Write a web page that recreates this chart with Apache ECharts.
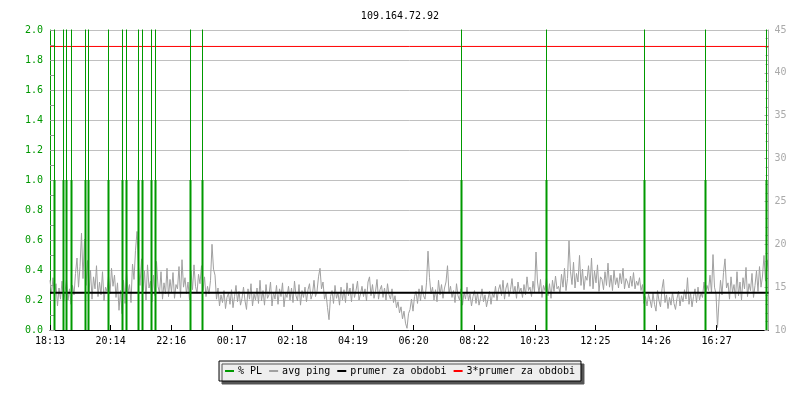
<!DOCTYPE html>
<html>
<head>
<meta charset="utf-8">
<script src="https://cdn.jsdelivr.net/npm/echarts@6/dist/echarts.min.js"></script>
<style>html,body{margin:0;padding:0;background:#fff}#c{width:800px;height:400px}</style>
</head>
<body>
<div id="c"></div>
<script>
// ---- data ----
const titleText = '109.164.72.92';
const xTickLabels = ['18:13','20:14','22:16','00:17','02:18','04:19','06:20','08:22','10:23','12:25','14:26','16:27'];
const xTickStepMin = 121.2;          // minutes between labelled ticks
const pingStepMin = 3;               // minutes between ping samples
const xMaxMin = 1437;                // minutes shown
// avg ping [ms], one value every 3 minutes from 18:13 (one row = 1 hour)
const pingValues = [
 15.8,14.2,16.1,13.9,15.4,12.8,14.9,13.6,15.7,13.2,14.4,15.9,13.5,14.8,13.0,15.2,14.1,16.6,18.4,15.0,
 17.4,21.3,16.0,20.6,15.2,18.1,14.3,17.0,13.6,16.2,14.8,17.5,13.9,15.6,14.1,16.8,13.4,15.0,14.5,16.3,
 14.2,17.2,15.1,16.4,13.8,15.5,12.3,14.6,11.9,15.8,13.1,16.9,14.4,15.3,13.2,17.7,15.9,19.3,21.5,17.4,
 15.2,18.3,14.6,16.9,13.5,17.6,14.9,15.7,13.3,16.4,14.0,18.0,15.1,14.3,16.8,13.6,15.5,14.2,17.2,13.9,
 15.9,14.4,16.7,13.7,15.3,14.8,17.4,13.8,18.2,15.0,16.1,14.2,15.6,13.5,16.9,14.7,17.6,15.1,14.3,16.5,
 15.4,17.5,14.6,16.2,13.9,15.1,14.2,15.8,20.0,17.1,16.4,13.6,14.9,12.8,14.1,13.2,14.6,12.5,13.8,14.3,
 13.0,14.7,12.6,13.9,15.2,13.3,14.5,12.9,13.7,15.0,13.4,12.4,14.8,13.6,15.4,12.8,14.2,13.5,14.9,13.1,
 15.8,13.4,14.6,12.9,15.3,13.7,14.1,15.6,12.8,14.4,13.6,15.2,13.0,14.8,13.9,15.5,12.7,14.3,13.8,15.1,
 13.5,14.9,13.2,15.7,14.0,13.4,15.3,12.9,14.6,13.8,15.0,13.3,14.7,15.4,13.6,14.2,15.8,13.9,14.5,16.2,
 17.2,14.8,15.6,13.6,14.3,12.6,11.2,13.9,14.6,13.1,15.2,13.7,14.4,12.9,15.0,13.5,14.7,13.2,15.5,14.0,
 14.9,13.3,15.4,13.8,14.6,15.7,13.5,14.2,15.1,13.9,14.8,13.4,15.6,16.2,14.0,15.3,13.7,14.5,15.9,13.6,
 14.7,15.2,13.8,14.9,13.5,15.4,14.1,13.6,14.8,13.2,14.0,12.6,13.3,12.0,12.7,11.3,12.2,10.8,10.2,11.9,
 12.4,13.6,12.2,13.9,14.5,13.1,14.8,13.4,15.2,14.0,13.6,15.5,19.2,16.1,14.2,15.0,13.5,14.7,13.3,15.8,
 14.1,15.3,13.7,14.9,15.6,17.5,14.3,15.1,13.8,14.6,13.2,15.4,14.0,13.5,14.8,12.9,14.4,13.6,15.0,13.4,
 14.2,12.8,13.9,14.6,13.1,14.4,12.9,13.7,14.8,13.3,14.1,12.7,13.6,14.5,13.0,14.3,13.8,15.1,13.4,14.7,
 15.3,14.0,15.8,13.6,14.9,15.5,13.9,14.7,16.0,14.2,15.1,13.7,15.6,14.4,14.9,13.8,15.3,14.1,16.2,14.6,
 15.0,13.9,15.7,14.4,19.1,15.6,14.3,15.9,13.8,15.2,14.6,16.1,14.0,15.4,13.7,15.8,14.5,16.3,14.8,15.1,
 14.3,16.5,15.0,17.2,14.6,16.0,20.4,16.8,15.3,17.9,14.9,16.6,15.6,18.7,15.2,17.1,14.7,16.3,15.8,17.5,
 15.1,18.4,14.8,16.9,15.5,17.6,14.5,16.2,15.9,14.7,16.8,15.2,17.8,15.0,16.4,14.6,17.0,15.3,16.1,14.9,
 16.6,15.4,17.2,14.8,16.0,15.6,14.9,16.3,15.1,16.7,14.8,15.7,15.2,16.1,14.6,15.3,13.1,13.9,12.8,14.2,
 13.5,12.6,14.3,13.0,12.2,14.6,13.4,12.7,14.8,15.9,13.2,14.1,12.5,13.8,12.9,14.4,13.1,12.4,13.7,14.5,
 12.8,14.0,13.3,14.7,13.6,16.1,13.0,14.4,12.7,13.9,14.8,13.2,15.0,13.5,14.3,13.8,15.6,14.1,15.2,14.6,
 16.4,14.3,18.8,15.0,14.2,10.3,13.4,15.8,14.1,16.7,18.3,14.9,15.5,13.6,16.2,14.4,15.3,13.7,16.8,14.0,
 15.6,13.5,16.1,14.8,17.3,13.9,15.4,14.6,16.6,13.8,15.2,16.9,14.5,17.4,15.0,16.3,18.7,15.7,18.2,16.8
];
// packet loss events: minutes from 18:13 and loss value [%]
const plTimes  = [9,27,33,43,71,77,117,145,153,177,185,203,211,281,305,823,993,1189,1311,1433];
const plValues = [5,5,5,5,5,5,5,5,5,5,5,5,5,5,5,5,5,5,5,5];
const plFloor = 1.0;                 // thick part of each loss bar
const meanPing = 14.36;              // prumer za obdobi [ms]

// ---- build ----
const FONT = 'DejaVu Sans Mono';
const GREEN = '#009900';
const pingData = pingValues.map((v, i) => [i * pingStepMin, v]);
function spikes(vals, cap) {
  const out = [];
  plTimes.forEach((t, i) => {
    const v = cap == null ? vals[i] : Math.min(vals[i], cap);
    out.push([t, 0], [t, v], [t, '-']);
  });
  return out;
}
const chart = echarts.init(document.getElementById('c'), null, {renderer: 'canvas'});
chart.setOption({
  animation: false,
  backgroundColor: '#fff',
  title: {
    text: titleText, left: 'center', top: 6,
    textStyle: {fontFamily: FONT, fontSize: 10, fontWeight: 'normal', color: '#000'}
  },
  grid: {left: 50, right: 31.5, top: 30, bottom: 70},
  legend: {
    top: 361, left: 'center',
    padding: [5, 6, 5, 6],
    itemGap: 7, itemWidth: 9, itemHeight: 2, icon: 'rect',
    backgroundColor: '#eeeeee', borderColor: '#000', borderWidth: 1,
    shadowColor: '#555', shadowBlur: 0, shadowOffsetX: 3, shadowOffsetY: 3,
    textStyle: {fontFamily: FONT, fontSize: 10, color: '#000', padding: [0, 0, 0, -1]},
    data: ['% PL', 'avg ping', 'prumer za obdobi', '3*prumer za obdobi']
  },
  xAxis: {
    type: 'value', min: 0, max: xMaxMin, interval: xTickStepMin,
    axisLine: {lineStyle: {color: '#000', width: 1}},
    axisTick: {inside: true, length: 5, lineStyle: {color: '#000'}},
    splitLine: {show: false},
    axisLabel: {
      fontFamily: FONT, fontSize: 10, color: '#000', margin: 6, showMaxLabel: false,
      formatter: v => {
        const k = v / xTickStepMin;
        const r = Math.round(k);
        return Math.abs(k - r) < 1e-6 && xTickLabels[r] ? xTickLabels[r] : '';
      }
    }
  },
  yAxis: [
    {
      type: 'value', min: 0, max: 2, interval: 0.2,
      axisLine: {show: true, lineStyle: {color: GREEN, width: 1}},
      axisTick: {show: true, inside: true, length: 5, lineStyle: {color: '#999'}},
      minorTick: {show: true, splitNumber: 2, length: 5, lineStyle: {color: '#999'}},
      splitLine: {show: true, lineStyle: {color: '#c0c0c0', width: 1}},
      axisLabel: {fontFamily: FONT, fontSize: 10, color: GREEN, margin: 7, formatter: v => v.toFixed(1)}
    },
    {
      type: 'value', min: 10, max: 45, interval: 5, position: 'right',
      axisLine: {show: true, lineStyle: {color: '#aaa', width: 1}},
      axisTick: {show: true, inside: true, length: 4, lineStyle: {color: '#aaa'}},
      minorTick: {show: true, splitNumber: 5, length: 3, lineStyle: {color: '#aaa'}},
      splitLine: {show: false},
      axisLabel: {fontFamily: FONT, fontSize: 10, color: '#aaa', margin: 6}
    }
  ],
  series: [
    {
      name: 'avg ping', type: 'line', yAxisIndex: 1, data: pingData,
      showSymbol: false, symbol: 'none', color: '#a0a0a0',
      lineStyle: {color: '#a0a0a0', width: 1}, z: 2
    },
    {
      name: 'prumer za obdobi', type: 'line', yAxisIndex: 1,
      data: [[0, meanPing], [xMaxMin, meanPing]],
      symbol: 'none', color: '#000', lineStyle: {color: '#000', width: 2}, z: 3
    },
    {
      name: '3*prumer za obdobi', type: 'line', yAxisIndex: 1,
      data: [[0, 3 * meanPing], [xMaxMin, 3 * meanPing]],
      symbol: 'none', color: '#ff0000', lineStyle: {color: '#ff0000', width: 1}, z: 3
    },
    {
      name: '% PL', type: 'line', yAxisIndex: 0, data: spikes(plValues, null),
      symbol: 'none', color: GREEN, lineStyle: {color: GREEN, width: 1}, z: 4, clip: true
    },
    {
      name: '% PL', type: 'line', yAxisIndex: 0, data: spikes(plValues, plFloor),
      symbol: 'none', color: GREEN, lineStyle: {color: GREEN, width: 2}, z: 4, clip: true
    }
  ]
});
</script>
</body>
</html>
